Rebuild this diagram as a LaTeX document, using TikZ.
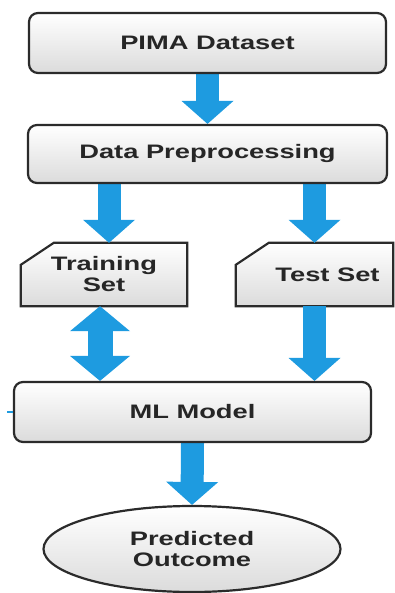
\documentclass[tikz,border=0pt]{standalone}
\usepackage{fontspec}
\usetikzlibrary{arrows.meta, backgrounds, shapes.geometric}
\newfontfamily\boxfont{Liberation Sans}[FakeStretch=1.4]
\definecolor{wblue}{HTML}{1E9BE0}
\definecolor{wline}{HTML}{2B2B2B}
\tikzset{
  lbl/.style={text=black!85, align=center, inner sep=0pt,
    font=\boxfont\bfseries\fontsize{19.5pt}{21pt}\selectfont},
  shadebox/.style={draw=wline, line width=2.2pt, top color=white, bottom color=black!14},
  box/.style={lbl, shadebox, rounded corners=9pt, minimum width=357pt, minimum height=60pt},
  cutbox/.style={lbl, minimum height=63pt},
  bigarrow/.style={wblue, line width=23pt,
    -{Triangle[length=23pt, width=52pt, line width=0pt]}},
  twoarrow/.style={wblue, line width=25pt,
    {Triangle[length=25pt, width=60pt, line width=0pt]}-{Triangle[length=25pt, width=60pt, line width=0pt]}}
}

\begin{document}
\begin{tikzpicture}[x=1pt, y=-1pt]
  \useasboundingbox (0,0) rectangle (395,593);

  \node[box] at (207.5,43)(pima){PIMA Dataset};
  \node[box, minimum width=359pt, minimum height=58pt] at (207.5,154)(prep){Data Preprocessing};
  \node[cutbox, minimum width=166pt] at (104,274.5)(train){Training\\Set};
  \node[cutbox, minimum width=157pt] at (314.5,274.5)(test){\hspace*{26pt}Test Set};
  \node[box] at (192.5,412)(ml){ML Model};
  \node[lbl, shadebox, ellipse, minimum width=297pt, minimum height=86pt] at (192,549)(out){Predicted\\Outcome};

  \coordinate (t1) at ([xshift=5pt]train.north);
  \coordinate (t2) at ([xshift=-4pt]train.south);

  \begin{pgfonlayer}{background}
    \foreach \n in {train,test}
      \draw[shadebox] ([yshift=-22pt]\n.north west) -- ([xshift=33pt]\n.north west)
        -- (\n.north east) -- (\n.south east) -- (\n.south west) -- cycle;
    \draw[bigarrow] (pima.south) -- (prep.north);
    \draw[bigarrow] (prep.south -| t1) -- (t1);
    \draw[bigarrow] (prep.south -| test.north) -- (test.north);
    \draw[twoarrow] (t2) -- (ml.north -| t2);
    \draw[bigarrow] (test.south) -- (ml.north -| test.south);
    \draw[bigarrow] (ml.south) -- (out.north);
  \end{pgfonlayer}
  \draw[wblue, line width=2pt] (ml.west) -- ++(-6,0);

\end{tikzpicture}
\end{document}
